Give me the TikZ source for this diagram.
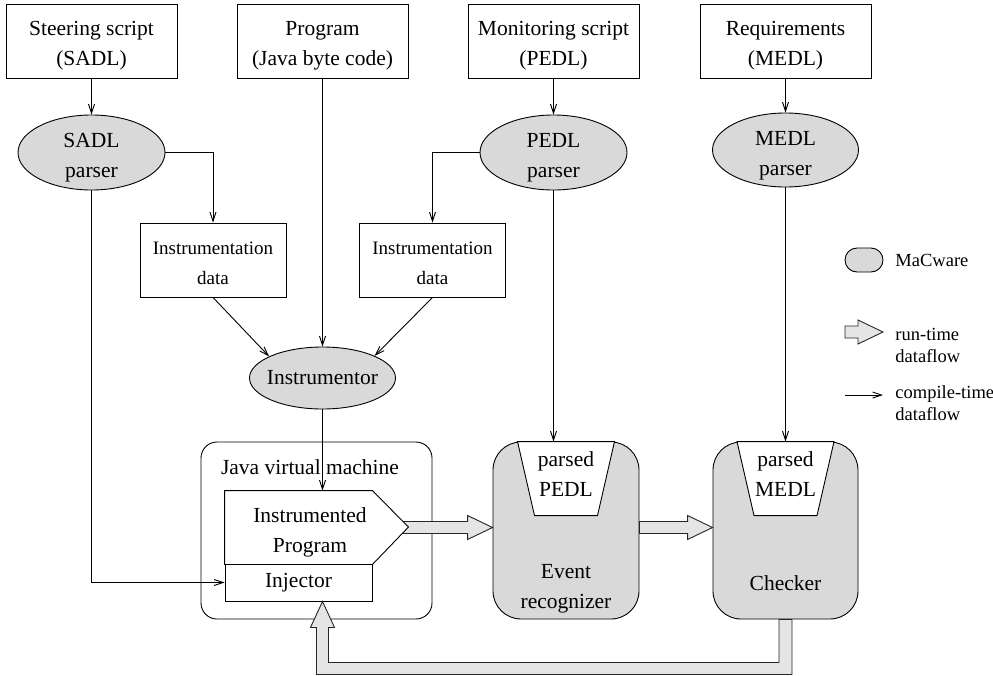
\documentclass[tikz,border=0pt]{standalone}
\usepackage{fontspec}
\setmainfont{Liberation Serif}
\usetikzlibrary{arrows.meta,calc,shapes.geometric}
\newcommand\bigfont{\fontsize{21.5}{30}\selectfont}
\newcommand\smallfont{\fontsize{19}{30}\selectfont}
\newcommand\legfont{\fontsize{18.5}{22.5}\selectfont}
% two lines, first baseline #2 below the node centre
\newcommand\twoline[4][c]{\raisebox{#2}[0pt][0pt]{\begin{tabular}[t]{@{}#1@{}}#3\\#4\end{tabular}}}
\def\fatarrow(#1)(#2){\draw[fatflow] ($(#1)+(0,-6)$) -- ($(#2)+(-25,-6)$) -- ($(#2)+(-25,-12)$) -- (#2) -- ($(#2)+(-25,12)$) -- ($(#2)+(-25,6)$) -- ($(#1)+(0,6)$) -- cycle;}
\tikzset{
  srcbox/.style={draw, minimum width=171pt, minimum height=74pt},
  parser/.style={ellipse, draw, fill=black!15, inner sep=0pt},
  databox/.style={draw, minimum width=146pt, minimum height=74pt, font=\smallfont},
  proc/.style={draw, fill=black!15, rounded corners=28pt, minimum width=146pt, minimum height=177pt},
  legtext/.style={anchor=west, inner sep=0pt, font=\legfont},
  flow/.style={-{Straight Barb[length=9pt,width=6pt]}},
  fatflow/.style={draw=black!85, fill=black!10},
}
\begin{document}
\begin{tikzpicture}[x=1pt, y=-1pt, line width=0.9pt, every node/.style={font=\bigfont}]
		\useasboundingbox (0,0) rectangle (993,675);
		
		% inputs
		\node[srcbox] (steer) at (91.5,41) {\twoline{5.3pt}{Steering script}{(SADL)}};
		\node[srcbox] (prog) at (322.5,41) {\twoline{5.3pt}{Program}{(Java byte code)}};
		\node[srcbox] (mon) at (553.5,41) {\twoline{5.3pt}{Monitoring script}{(PEDL)}};
		\node[srcbox] (req) at (785.5,41) {\twoline{5.3pt}{Requirements}{(MEDL)}};
		
		% parsers
		\node[parser, minimum width=147pt, minimum height=75pt] (sadlp) at (91.5,152.5) {\twoline{5.5pt}{SADL}{parser}};
		\node[parser, minimum width=147pt, minimum height=75pt] (pedlp) at (553.5,152.5) {\twoline{5.5pt}{PEDL}{parser}};
		\node[parser, minimum width=146pt, minimum height=74pt] (medlp) at (785.5,150) {\twoline{4.5pt}{MEDL}{parser}};
		
		\node[databox] (idata1) at (213,260) {\twoline{6pt}{Instrumentation}{data}};
		\node[databox] (idata2) at (432.5,260) {\twoline{6pt}{Instrumentation}{data}};
		\node[parser, minimum width=146pt, minimum height=62pt] (instr) at (322.5,378) {\makebox[0pt]{Instrumentor}};
		
		% run-time part
		\node[draw, rounded corners=16pt, minimum width=231pt, minimum height=177pt] (jvm) at (316.5,530.5) {};
		\node (jvmtxt) at (310,467) {Java virtual machine};
		\node[proc] (er) at (566,530.5) {};
		\node[proc, minimum width=145pt] (chk) at (785.5,530.5) {};
		
		\node[minimum width=147pt, minimum height=73pt] (iprog) at (298.5,527.5) {};
		\coordinate (ipout) at ($(iprog.east)+(30,0)$);
		\fatarrow(ipout)(ipout -| er.west)
		\fatarrow(er.east |- ipout)(chk.west |- ipout)
		\draw[fill=white] (iprog.north west) -- (iprog.north east) -- ++(36,36.5) -- (iprog.south east) -- (iprog.south west) -- cycle;
		\node (iptxt) at (310,530) {\twoline{8pt}{Instrumented}{Program}};
		\node[draw, minimum width=147pt, minimum height=37pt] (inj) at (298.5,582.5) {Injector};
		
		\draw[fill=white] ($(er.north)+(-48.5,0)$) -- ($(er.north)+(48.5,0)$) -- ($(er.north)+(31.5,74)$) -- ($(er.north)+(-31.5,74)$) -- cycle;
		\node (ppedl) at ($(er.north)+(0,34)$) {\twoline{9pt}{parsed}{PEDL}};
		\node (ertxt) at (566,586) {\twoline{8pt}{Event}{recognizer}};
		\draw[fill=white] ($(chk.north)+(-48.5,0)$) -- ($(chk.north)+(48.5,0)$) -- ($(chk.north)+(31.5,74)$) -- ($(chk.north)+(-31.5,74)$) -- cycle;
		\node (pmedl) at ($(chk.north)+(0,34)$) {\twoline{9pt}{parsed}{MEDL}};
		\node (chktxt) at (785.5,583) {Checker};
		
		% feedback from the checker
		\coordinate (fbtip) at (instr.south |- inj.south);
		\draw[fatflow] ($(chk.south)+(-6.5,0)$) -- ($(chk.south)+(-6.5,43)$) -- ($(fbtip)+(6,61)$) -- ($(fbtip)+(6,26)$) -- ($(fbtip)+(12,26)$) -- (fbtip) -- ($(fbtip)+(-12,26)$) -- ($(fbtip)+(-6,26)$) -- ($(fbtip)+(-6,73)$) -- ($(chk.south)+(6.5,55)$) -- ($(chk.south)+(6.5,0)$) -- cycle;
		
		% compile-time flows
		\draw[flow] (steer.south) -- (sadlp.north);
		\draw[flow] (mon.south) -- (pedlp.north);
		\draw[flow] (req.south) -- (medlp.north);
		\draw[flow] (sadlp.east) -| (idata1.north);
		\draw[flow] (pedlp.west) -| (idata2.north);
		\draw[flow] (idata1.south) -- (instr.158);
		\draw[flow] (idata2.south) -- (instr.23);
		\draw[flow] (prog.south) -- (instr.north);
		\draw[flow] (instr.south) -- (instr.south |- iprog.north);
		\draw[flow] (sadlp.south) |- (inj.west);
		\draw[flow] (pedlp.south) -- (pedlp.south |- er.north);
		\draw[flow] (medlp.south) -- (chk.north);
		
		% legend
		\node[draw, fill=black!15, rounded corners=12pt, minimum width=38pt, minimum height=24pt] (lgmac) at (864,260) {};
		\node[legtext, anchor=base west] (lgmactxt) at (895,266) {MaCware};
		\coordinate (lgrt) at (845,332);
		\coordinate (lgrtend) at (883,332);
		\fatarrow(lgrt)(lgrtend)
		\node[legtext] (lgrttxt) at (895,340) {\twoline[l]{0pt}{run-time}{dataflow}};
		\coordinate (lgct) at (845,395);
		\coordinate (lgctend) at (883,395);
		\draw[flow] (lgct) -- (lgctend);
		\node[legtext] (lgcttxt) at (895,398) {\twoline[l]{0pt}{compile-time}{dataflow}};
		
	\end{tikzpicture}
\end{document}
